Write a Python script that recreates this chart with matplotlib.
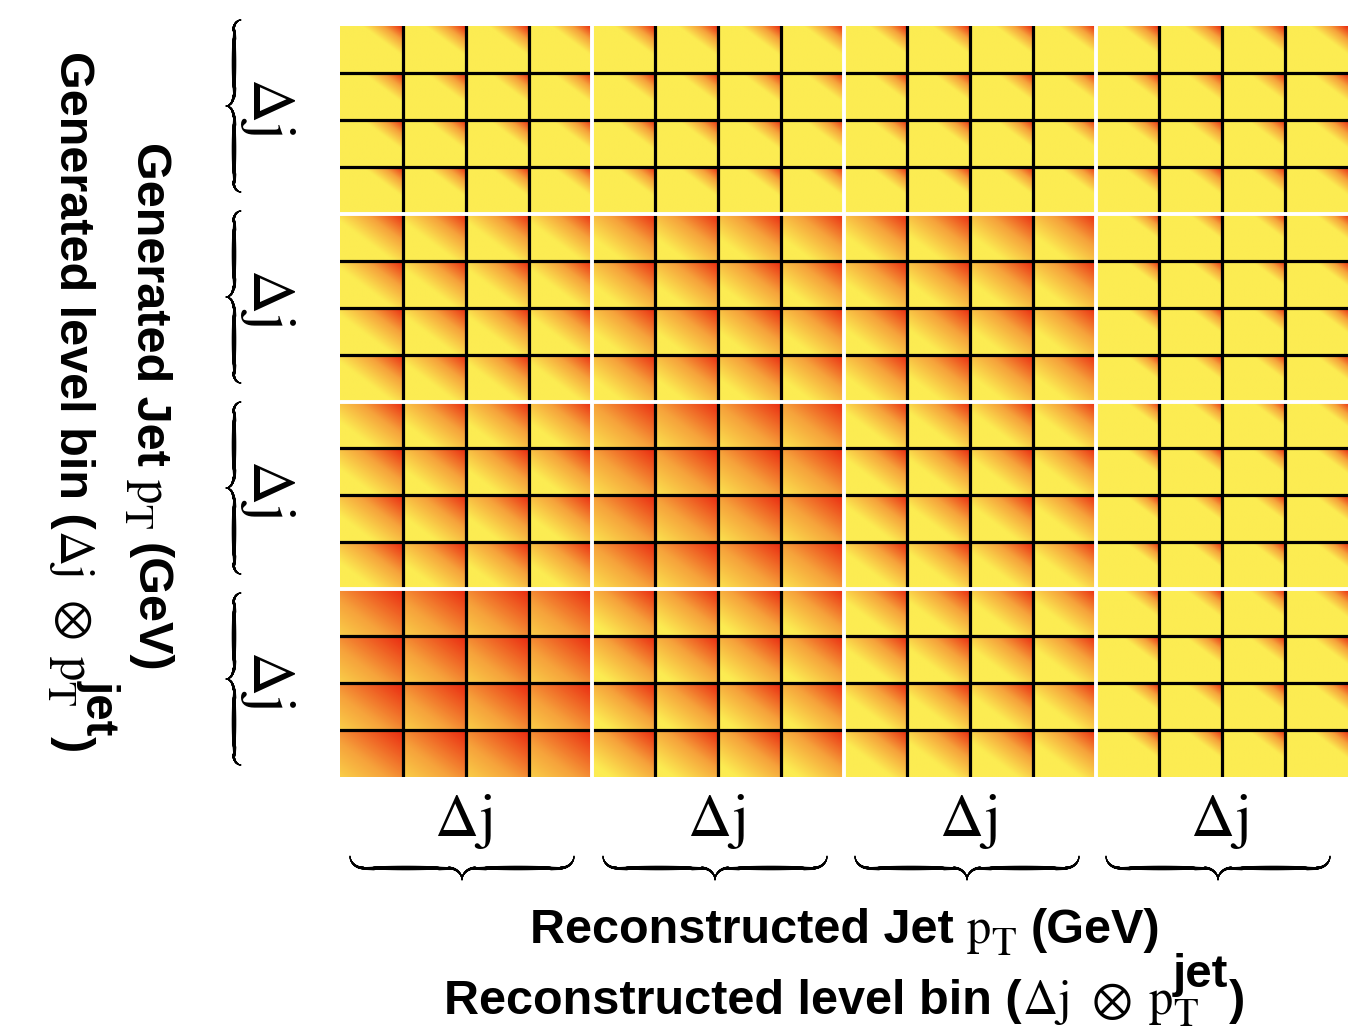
import numpy as np
import matplotlib
matplotlib.use("Agg")
import matplotlib.pyplot as plt
from matplotlib.colors import LinearSegmentedColormap
from matplotlib.collections import LineCollection

# ---- data -------------------------------------------------------------
n_blocks = 4          # pT^jet bins (blocks) along each axis
n_sub = 4             # Delta-j sub-bins inside each block
# migration strength of each (generated row, reconstructed column) block,
# rows listed from top to bottom
block_strength = [
    [0.32, 0.32, 0.30, 0.30],
    [0.58, 0.75, 0.72, 0.27],
    [0.72, 1.05, 0.60, 0.27],
    [1.25, 0.85, 0.62, 0.30],
]
block_label = r"$\mathrm{\Delta j}$"
x_name_1, x_name_2 = "Reconstructed Jet", "Reconstructed level bin ("
y_name_1, y_name_2 = "Generated Jet", "Generated level bin ("
unit_text = "(GeV)"
cell_colors = ["#FCEC52", "#F6A23B", "#EA2810"]

# ---- style ------------------------------------------------------------
plt.rcParams["mathtext.fontset"] = "custom"
plt.rcParams["mathtext.rm"] = "STIXGeneral"
plt.rcParams["mathtext.it"] = "STIXGeneral:italic"
plt.rcParams["mathtext.bf"] = "Liberation Sans:bold"
plt.rcParams["font.family"] = ["Liberation Sans", "DejaVu Sans"]

W, H = 1353, 1036
fig = plt.figure(figsize=(W / 100, H / 100), dpi=100)

# ---- response matrix --------------------------------------------------
ax = fig.add_axes([340 / W, 1 - 777 / H, 1008 / W, 751 / H])
cmap = LinearSegmentedColormap.from_list("migr", cell_colors)

n = n_blocks * n_sub
P = 48
u = (np.arange(P) + 0.5) / P
U, V = np.meshgrid(u, 1 - u)
T = (U + V) / 2.0          # 0 at lower-left corner, 1 at upper-right corner
img = np.zeros((n * P, n * P))
for br in range(n_blocks):
    for bc in range(n_blocks):
        s = block_strength[br][bc]
        cell = np.clip((T - (1 - s)) / s, 0, 1)
        img[br * n_sub * P:(br + 1) * n_sub * P,
            bc * n_sub * P:(bc + 1) * n_sub * P] = np.tile(cell, (n_sub, n_sub))

ax.imshow(img, cmap=cmap, vmin=0, vmax=1, extent=(0, n, n, 0),
          aspect="auto", interpolation="bilinear")
for k in range(1, n):
    if k % n_sub:
        ax.axhline(k, color="black", lw=2.3)
        ax.axvline(k, color="black", lw=2.3)
for k in range(n_sub, n, n_sub):
    ax.axhline(k, color="white", lw=2.8)
    ax.axvline(k, color="white", lw=2.8)
ax.set_xlim(0, n)
ax.set_ylim(n, 0)
ax.axis("off")

# ---- annotation layer (pixel coordinates, y downwards) ----------------
ann = fig.add_axes([0, 0, 1, 1])
ann.set_xlim(0, W)
ann.set_ylim(H, 0)
ann.axis("off")


def brace_curve(length, depth, radius, npts=120):
    h = depth / 2.0
    th = np.linspace(0, np.pi / 2, npts)
    ax_ = radius - radius * np.cos(th)
    ay_ = h * np.sin(th)
    bx_ = np.linspace(radius, length / 2 - radius, npts)
    by_ = np.full(npts, h)
    cx_ = length / 2 - radius + radius * np.sin(th)
    cy_ = depth - h * np.cos(th)
    hx = np.concatenate([ax_, bx_, cx_])
    hy = np.concatenate([ay_, by_, cy_])
    d = np.concatenate([[0], np.cumsum(np.hypot(np.diff(hx), np.diff(hy)))])
    hs = d / d[-1]
    x = np.concatenate([hx, length - hx[::-1]])
    y = np.concatenate([hy, hy[::-1]])
    s = np.concatenate([hs, hs[::-1]])
    return x, y, s


def draw_brace(x0, y0, length, depth, vertical=False):
    x, y, s = brace_curve(length, depth, radius=min(14, length * 0.06))
    if vertical:
        px, py = x0 - y, y0 + x
    else:
        px, py = x0 + x, y0 + y
    pts = np.column_stack([px, py])
    segs = np.stack([pts[:-1], pts[1:]], axis=1)
    sm = 0.5 * (s[:-1] + s[1:])
    width_px = 0.8 + 3.6 * np.sin(np.pi * sm) ** 0.8
    lc = LineCollection(segs, linewidths=width_px * 0.72, colors="black",
                        capstyle="round")
    ann.add_collection(lc)


# bottom braces and labels
bottom_brace_x = [350, 603, 855, 1106]
for i in range(n_blocks):
    draw_brace(bottom_brace_x[i], 856, 224, 24)
    ann.text(bottom_brace_x[i] + 113, 836, block_label, fontsize=44,
             ha="center", va="baseline")

# left braces and labels
left_brace_y = [20, 211, 402, 593]
for i in range(n_blocks):
    draw_brace(241, left_brace_y[i], 172, 15, vertical=True)
    ann.text(253, left_brace_y[i] + 86, block_label, fontsize=44,
             ha="center", va="baseline", rotation=-90, rotation_mode="anchor")

# ---- axis titles, set piece by piece ----------------------------------
SANS = dict(fontsize=35, fontweight="bold")
MATH = dict(fontsize=35)
SUB = dict(fontsize=29)
SUP = dict(fontsize=34, fontweight="bold")


def place_line(groups, center, baseline, rotated=False):
    """Lay out text pieces along a line; a group is a gap (float) or a list
    of stacked (text, kwargs, baseline_shift) items sharing one advance."""
    renderer = fig.canvas.get_renderer()
    made = []
    cursor = 0.0
    for group in groups:
        if isinstance(group, (int, float)):
            cursor += group
            continue
        adv = 0.0
        for text, kw, shift in group:
            t = ann.text(0, 0, text, ha="left", va="baseline",
                         rotation=-90 if rotated else 0,
                         rotation_mode="anchor", **kw)
            bb = t.get_window_extent(renderer)
            adv = max(adv, bb.height if rotated else bb.width)
            made.append((t, cursor, shift))
        cursor += adv
    start = center - cursor / 2.0
    for t, c, shift in made:
        if rotated:
            t.set_position((baseline + shift, start + c))
        else:
            t.set_position((start + c, baseline - shift))


def title_jet(name):
    return [[(name, SANS, 0)], 13,
            [(r"$\mathrm{p}$", MATH, 0)],
            [(r"$\mathrm{T}$", SUB, -12)], 14,
            [(unit_text, SANS, 0)]]


def title_bin(name):
    return [[(name, SANS, 0)], 0,
            [(r"$\mathrm{\Delta j}$", MATH, 0)], 22,
            [(r"$\otimes$", MATH, 0)], 17,
            [(r"$\mathrm{p}$", MATH, 0)], 0,
            [(r"$\mathrm{T}$", SUB, -12), ("jet", SUP, 27)], 1,
            [(")", SANS, 0)]]


place_line(title_jet(x_name_1), 845, 943)
place_line(title_bin(x_name_2), 845, 1014)
place_line(title_jet(y_name_1), 407, 137, rotated=True)
place_line(title_bin(y_name_2), 402, 60, rotated=True)

fig.savefig("out.png", dpi=100)
